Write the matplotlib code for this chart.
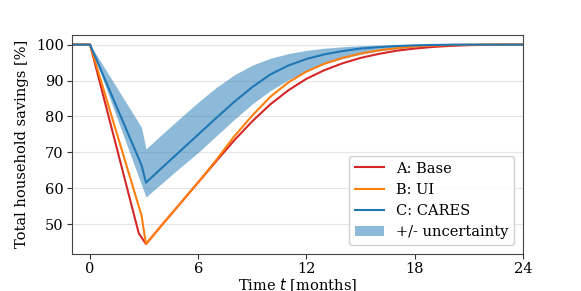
import numpy as np
import matplotlib
matplotlib.use("Agg")
import matplotlib.pyplot as plt

# A: Base
t_base = [-1, 0, 2.7, 3.1, 4, 5, 6, 7, 8, 9, 10, 11, 12, 13, 14, 15, 16, 17, 18, 19, 20, 21, 22, 23, 24]
base = [100, 100, 47.5, 44.5, 49.9, 55.8, 61.7, 67.6, 73.4, 78.7, 83.4, 87.3, 90.5, 92.9, 94.8,
        96.3, 97.4, 98.3, 98.9, 99.35, 99.65, 99.85, 99.95, 100, 100]

# B: UI
t_ui = [-1, 0, 2.85, 3.1, 4, 5, 6, 7, 8, 9, 10, 11, 12, 13, 14, 15, 16, 17, 18, 19, 20, 21, 22, 23, 24]
ui = [100, 100, 52.5, 44.5, 49.9, 55.8, 61.7, 67.9, 74.5, 80.3, 85.5, 89.5, 92.5, 94.7, 96.3,
      97.5, 98.4, 99.0, 99.5, 99.75, 99.9, 99.97, 100, 100, 100]

# C: CARES with uncertainty band
t_cares = [-1, 0, 2.85, 3.1, 4, 5, 6, 7, 8, 9, 10, 11, 12, 13, 14, 15, 16, 17, 18, 19, 20, 21, 22, 23, 24]
cares = [100, 100, 66.5, 61.6, 65.8, 70.4, 75.0, 79.6, 84.1, 88.2, 91.7, 94.2, 96.0, 97.3, 98.2,
         98.9, 99.3, 99.6, 99.8, 99.9, 99.97, 100, 100, 100, 100]
cares_hi = [100, 100, 77.0, 71.0, 75.1, 79.6, 84.0, 88.1, 91.6, 94.3, 96.2, 97.5, 98.4, 99.0, 99.4,
            99.7, 99.85, 99.95, 100, 100, 100, 100, 100, 100, 100]
cares_lo = [100, 100, 61.0, 57.6, 61.5, 65.8, 70.0, 74.6, 79.2, 83.5, 87.2, 90.2, 92.7, 94.6, 96.1,
            97.3, 98.2, 98.8, 99.3, 99.6, 99.8, 99.9, 100, 100, 100]

xticks = [0, 6, 12, 18, 24]

plt.rcParams['font.family'] = 'DejaVu Serif'
plt.rcParams['font.size'] = 10.5

fig = plt.figure(figsize=(5.81, 2.91), dpi=100)
ax = fig.add_axes([0.124, 0.127, 0.776, 0.754])

ax.grid(axis='y', color='#e6e6e6', linewidth=0.8)
ax.set_axisbelow(True)

ax.plot(t_base, base, color='#d62728', linewidth=1.5, label='A: Base')
ax.plot(t_ui, ui, color='#ff7f0e', linewidth=1.5, label='B: UI')
ax.plot(t_cares, cares, color='#1f77b4', linewidth=1.5, label='C: CARES')
ax.fill_between(t_cares, cares_lo, cares_hi, color='#1f77b4', alpha=0.5, linewidth=0,
                label='+/- uncertainty')

ax.set_xlim(-1, 24)
ax.set_xticks(xticks)
ax.set_xlabel('Time $t$ [months]', labelpad=0)
ax.set_ylabel('Total household savings [%]', labelpad=5)

for s in ax.spines.values():
    s.set_color('#444444')
ax.tick_params(colors='#333333', labelcolor='black', pad=2.5)

ax.legend(loc='lower right', framealpha=0.9, edgecolor='#cccccc', handlelength=2.0,
          borderaxespad=0.6)

plt.savefig('out.png', dpi=100)
